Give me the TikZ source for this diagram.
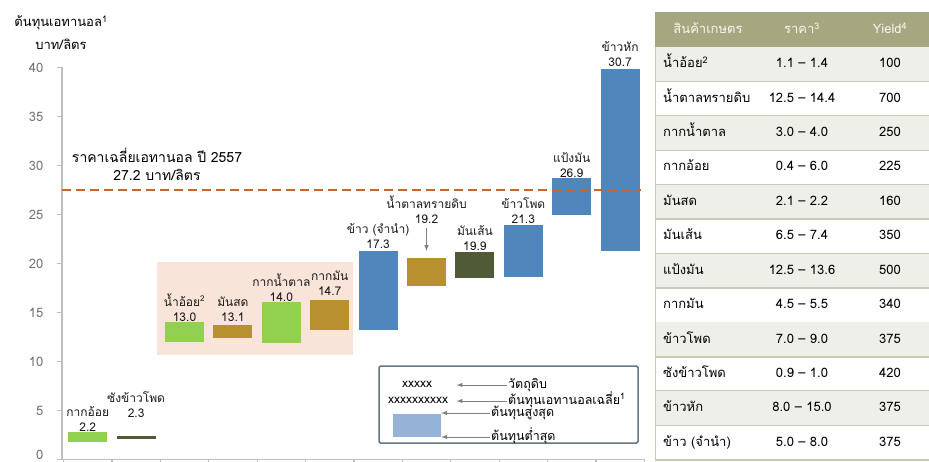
\documentclass[tikz,border=0pt]{standalone}
\usepackage{fontspec}
\setmainfont[Script=Thai]{Loma}
\usetikzlibrary{positioning,calc,arrows}

\definecolor{bgreen}{HTML}{92D050}
\definecolor{bbrown}{HTML}{B8902F}
\definecolor{bolive}{HTML}{4F5A37}
\definecolor{bblue}{HTML}{4F86BC}
\definecolor{legblue}{HTML}{95B3D7}
\definecolor{pinkbg}{HTML}{F8E4D8}
\definecolor{avgline}{HTML}{C8642C}
\definecolor{thead}{HTML}{A6A780}
\definecolor{trow}{HTML}{EFEFEA}
\definecolor{tline}{HTML}{C9CAB5}
\definecolor{legline}{HTML}{65768A}
\definecolor{headtxt}{HTML}{F7F7EF}

\begin{document}
\begin{tikzpicture}[x=1pt,y=1pt,font=\fontsize{12}{15}\selectfont,
axis/.style={draw=black!25,line width=1.2pt},
ylab/.style={anchor=east,inner sep=0pt,text=black!55,font=\fontsize{13}{15}\selectfont},
lbl/.style={align=center,anchor=south,inner sep=0pt,text=black!90},
arr/.style={-latex,draw=black!50,line width=1pt},
legtxt/.style={anchor=west,inner sep=1pt,text height=6pt,text depth=0pt,font=\fontsize{12.5}{15}\selectfont},
cell/.style={inner sep=0pt,text height=8pt,text depth=1pt,font=\fontsize{13}{15}\selectfont}]
\useasboundingbox (0,0) rectangle (929,461);

% chart: x in pt, y in value units
\begin{scope}[shift={(0,1.5)},y=9.8pt]
\fill[pinkbg] (157,10.66) rectangle (353,20.15);
\draw[axis] (62,0) -- (62,40);
\draw[axis] (57,0) -- (645,0);
\foreach \v in {5,10,...,40}
{\draw[axis] (57,\v) -- (62,\v);
 \node[ylab] (y\v) at (43.5,\v) {\v};}
\node[ylab,yshift=5pt] (y0) at (43.5,0) {0};
\foreach \k in {0,...,12}
 \draw[axis] (63.5+48.4*\k,0) -- ++(0,-4pt);
\foreach \i/\lo/\hi/\col/\name/\val/\ly in
{1/1.79/2.81/bgreen/กากอ้อย/2.2/2.86,
 2/2.09/2.40/bolive/ซังข้าวโพด/2.3/4.29,
 3/11.99/14.03/bgreen/น้ำอ้อย\textsuperscript{2}/13.0/14.08,
 4/12.40/13.72/bbrown/มันสด/13.1/14.08,
 5/11.89/16.07/bgreen/กากน้ำตาล/14.0/16.12,
 6/13.21/16.28/bbrown/กากมัน/14.7/16.73,
 7/13.21/21.28/bblue/ข้าว (จำนำ)/17.3/21.53,
 8/17.70/20.56/bbrown/น้ำตาลทรายดิบ/19.2/24.08,
 9/18.52/21.17/bolive/มันเส้น/19.9/21.33,
 10/18.62/23.93/bblue/ข้าวโพด/21.3/24.08,
 11/24.95/28.72/bblue/แป้งมัน/26.9/28.78,
 12/21.28/39.85/bblue/ข้าวหัก/30.7/40.1}
{\pgfmathsetmacro\xl{68.2+48.4*(\i-1)}
 \fill[\col] (\xl,\lo) rectangle (\xl+39,\hi);
 \coordinate (bar\i) at (\xl+19.5,\hi);
 \node[lbl] (lbl\i) at (\xl+19.5,\ly) {\name\\\val};}
\draw[arr] ([yshift=-4pt]lbl8.south) -- ([yshift=7pt]bar8);
\draw[avgline,line width=2.5pt,dash pattern=on 9pt off 5pt] (62,27.5) -- (641,27.5);
\end{scope}

\node[align=center,font=\fontsize{14}{18}\selectfont] (avg) at (157,297)
 {ราคาเฉลี่ยเอทานอล ปี 2557\\27.2 บาท/ลิตร};
\node[align=center,font=\fontsize{13}{15}\selectfont] (ytitle) at (61,428.5)
 {ต้นทุนเอทานอล\textsuperscript{1}\\[8pt]บาท/ลิตร};

% legend
\draw[legline,line width=1.5pt,rounded corners=1.5pt] (379,18) rectangle (638,95);
\node[font=\fontsize{12}{12}\selectfont] (xx1) at (417,77) {xxxxx};
\node[font=\fontsize{12}{12}\selectfont] (xx2) at (418,61) {xxxxxxxxxx};
\node[fill=legblue,minimum width=48pt,minimum height=23pt,inner sep=0pt] (lgbar) at (417,35.5) {};
\node[legtxt] (lg1) at (507,76) {วัตถุดิบ};
\node[legtxt] (lg2) at (507,60) {ต้นทุนเอทานอลเฉลี่ย\textsuperscript{1}};
\node[legtxt] (lg3) at (490,48) {ต้นทุนสูงสุด};
\node[legtxt] (lg4) at (490,24) {ต้นทุนต่ำสุด};
\draw[arr] (lg1.west) -- ($(xx2.east |- lg1.west)+(5pt,0)$);
\draw[arr] (lg2.west) -- ($(xx2.east |- lg2.west)+(5pt,0)$);
\draw[arr] (lg3.west) -- (lg3.west -| lgbar.east);
\draw[arr] (lg4.west) -- (lg4.west -| lgbar.east);

% table
\fill[thead] (655,414) rectangle (929,449);
\node[cell,text=headtxt] (h1) at (708,431) {สินค้าเกษตร};
\node[cell,text=headtxt] (h2) at (802,431) {ราคา\textsuperscript{3}};
\node[cell,text=headtxt] (h3) at (890,431) {Yield\textsuperscript{4}};
\foreach \k/\name/\price/\yield in
{1/น้ำอ้อย\textsuperscript{2}/1.1 – 1.4/100,
 2/น้ำตาลทรายดิบ/12.5 – 14.4/700,
 3/กากน้ำตาล/3.0 – 4.0/250,
 4/กากอ้อย/0.4 – 6.0/225,
 5/มันสด/2.1 – 2.2/160,
 6/มันเส้น/6.5 – 7.4/350,
 7/แป้งมัน/12.5 – 13.6/500,
 8/กากมัน/4.5 – 5.5/340,
 9/ข้าวโพด/7.0 – 9.0/375,
 10/ซังข้าวโพด/0.9 – 1.0/420,
 11/ข้าวหัก/8.0 – 15.0/375,
 12/ข้าว (จำนำ)/5.0 – 8.0/375}
{\pgfmathsetmacro\ty{414-34.42*(\k-1)}
 \ifodd\k \fill[trow] (655,\ty) rectangle (929,\ty-34.42); \fi
 \draw[tline,line width=1.5pt] (655,\ty-34.42) -- (929,\ty-34.42);
 \node[cell,anchor=west] (n\k) at (663,\ty-17.21) {\name};
 \node[cell] (p\k) at (802,\ty-17.21) {\price};
 \node[cell] (q\k) at (890,\ty-17.21) {\yield};}
\draw[tline,line width=1pt] (655.5,0) -- (655.5,414);
\end{tikzpicture}
\end{document}
